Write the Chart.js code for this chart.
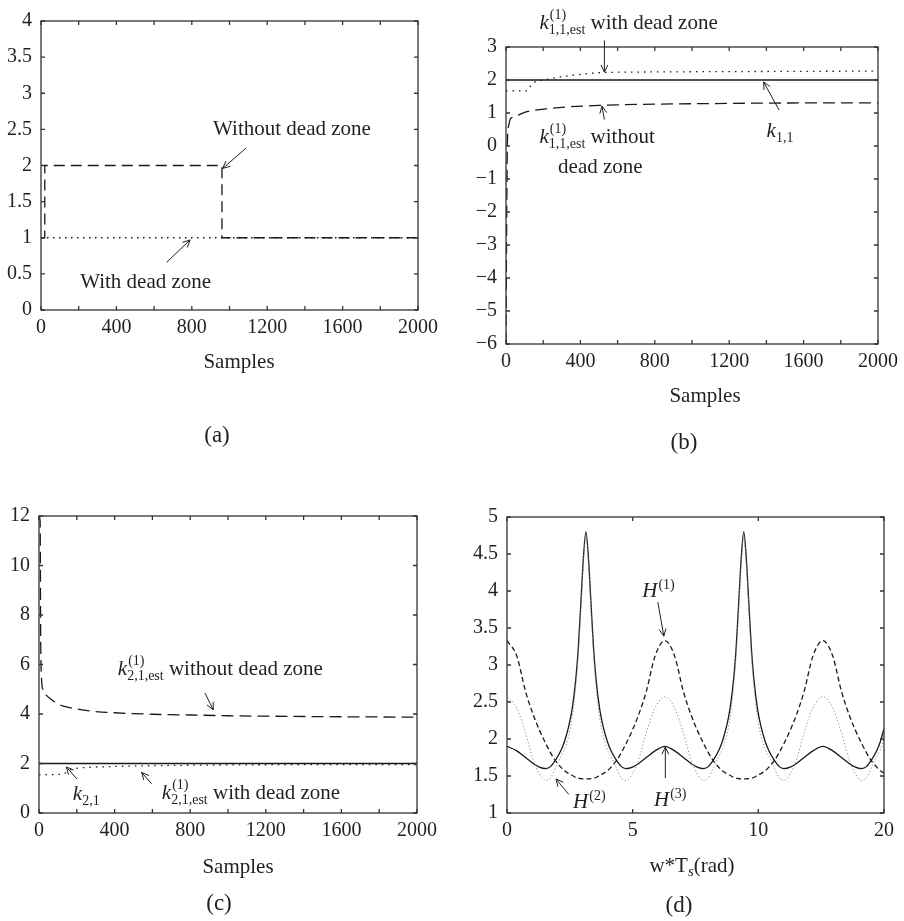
<!DOCTYPE html>
<html>
<head>
<meta charset="utf-8">
<script src="https://cdn.jsdelivr.net/npm/chart.js@4.4.1/dist/chart.umd.min.js"></script>
<style>
  body { margin: 0; background: #fff; width: 904px; height: 921px; position: relative; overflow: hidden;
         font-family: "Liberation Serif", "DejaVu Serif", serif; color: #231f20; }
  .panel { position: absolute; }
  .cap { position: absolute; transform: translate(-50%, -50%); font-size: 21px; white-space: nowrap; }
  .tag { font-size: 23px; }
</style>
</head>
<body>
<div class="panel" style="left:0;top:0;width:452px;height:460px"><canvas id="ca"></canvas></div>
<div class="panel" style="left:452px;top:0;width:452px;height:460px"><canvas id="cb"></canvas></div>
<div class="panel" style="left:0;top:460px;width:452px;height:461px"><canvas id="cc"></canvas></div>
<div class="panel" style="left:452px;top:460px;width:452px;height:461px"><canvas id="cd"></canvas></div>

<div class="cap" style="left:239px;top:361px">Samples</div>
<div class="cap tag" style="left:217px;top:435px">(a)</div>
<div class="cap" style="left:705px;top:395px">Samples</div>
<div class="cap tag" style="left:684px;top:442px">(b)</div>
<div class="cap" style="left:238px;top:866px">Samples</div>
<div class="cap tag" style="left:219px;top:903px">(c)</div>
<div class="cap" style="left:692px;top:865px">w*T<i style="font-size:15px;position:relative;top:4px">s</i>(rad)</div>
<div class="cap tag" style="left:679px;top:905px">(d)</div>

<script>
// (a) dead-zone switching gain
const aDeadX = [0, 2000];
const aDeadY = [1, 1];
const aFreeX = [0, 20, 20, 960, 960, 2000];
const aFreeY = [1, 1, 2, 2, 1, 1];

// (b) k_{1,1} estimates
const bRefX = [0, 2000];
const bRefY = [2, 2];
const bDeadX = [0, 115, 130, 150, 180, 230, 300, 400, 500, 700, 1000, 1500, 2000];
const bDeadY = [1.67, 1.67, 1.80, 1.92, 1.98, 2.03, 2.10, 2.17, 2.22, 2.24, 2.25, 2.26, 2.27];
const bFreeX = [0, 4, 8, 14, 22, 35, 60, 100, 150, 220, 320, 500, 700, 1000, 1400, 2000];
const bFreeY = [-6, -2, 0.2, 0.6, 0.8, 0.87, 0.92, 1.02, 1.08, 1.13, 1.18, 1.23, 1.26, 1.28, 1.30, 1.31];

// (c) k_{2,1} estimates
const cRefX = [0, 2000];
const cRefY = [2, 2];
const cDeadX = [0, 130, 150, 180, 250, 350, 500, 800, 1200, 2000];
const cDeadY = [1.55, 1.57, 1.70, 1.78, 1.84, 1.87, 1.90, 1.93, 1.95, 1.96];
const cFreeX = [0, 6, 9, 13, 20, 40, 60, 100, 150, 200, 300, 400, 600, 800, 1000, 1400, 2000];
const cFreeY = [12, 11.8, 7, 5.5, 5.0, 4.75, 4.62, 4.4, 4.28, 4.2, 4.1, 4.05, 3.99, 3.96, 3.93, 3.9, 3.87];

// (d) frequency responses
const dW = [
  0, 0.39, 0.74, 1.04, 1.29, 1.54, 1.74, 1.94, 2.14, 2.29, 2.44, 2.59, 2.74, 2.84, 2.94, 3.04, 3.14,
  3.24, 3.34, 3.44, 3.54, 3.69, 3.84, 3.99, 4.14, 4.34, 4.54, 4.74, 4.99, 5.24, 5.54, 5.89, 6.28,
  6.67, 7.02, 7.32, 7.57, 7.82, 8.02, 8.22, 8.42, 8.57, 8.72, 8.87, 9.02, 9.12, 9.22, 9.32, 9.42,
  9.52, 9.62, 9.72, 9.82, 9.97, 10.12, 10.27, 10.42, 10.62, 10.82, 11.02, 11.27, 11.52, 11.82, 12.17, 12.57,
  12.96, 13.31, 13.61, 13.86, 14.11, 14.31, 14.51, 14.71, 14.86, 15.0
];
const dH1 = [
  3.33, 3.12, 2.64, 2.33, 2.12, 1.94, 1.81, 1.70, 1.62, 1.57, 1.535, 1.51, 1.48, 1.47, 1.465, 1.46, 1.46,
  1.46, 1.465, 1.47, 1.48, 1.51, 1.535, 1.57, 1.62, 1.70, 1.81, 1.94, 2.12, 2.33, 2.64, 3.12, 3.33,
  3.12, 2.64, 2.33, 2.12, 1.94, 1.81, 1.70, 1.62, 1.57, 1.535, 1.51, 1.48, 1.47, 1.465, 1.46, 1.46,
  1.46, 1.465, 1.47, 1.48, 1.51, 1.535, 1.57, 1.62, 1.70, 1.81, 1.94, 2.12, 2.33, 2.64, 3.12, 3.33,
  3.12, 2.64, 2.33, 2.12, 1.94, 1.81, 1.70, 1.62, 1.57, 1.54
];
const dH2 = [
  2.57, 2.42, 2.08, 1.72, 1.53, 1.44, 1.48, 1.62, 1.76, 1.86, 2.02, 2.28, 2.72, 3.15, 3.76, 4.38, 4.75,
  4.38, 3.76, 3.15, 2.72, 2.28, 2.02, 1.86, 1.76, 1.62, 1.48, 1.44, 1.53, 1.72, 2.08, 2.42, 2.57,
  2.42, 2.08, 1.72, 1.53, 1.44, 1.48, 1.62, 1.76, 1.86, 2.02, 2.28, 2.72, 3.15, 3.76, 4.38, 4.75,
  4.38, 3.76, 3.15, 2.72, 2.28, 2.02, 1.86, 1.76, 1.62, 1.48, 1.44, 1.53, 1.72, 2.08, 2.42, 2.57,
  2.42, 2.08, 1.72, 1.53, 1.44, 1.48, 1.62, 1.76, 1.86, 2.01
];
const dH3 = [
  1.90, 1.84, 1.75, 1.67, 1.62, 1.60, 1.63, 1.72, 1.84, 1.97, 2.15, 2.40, 2.82, 3.25, 3.85, 4.45, 4.80,
  4.45, 3.85, 3.25, 2.82, 2.40, 2.15, 1.97, 1.84, 1.72, 1.63, 1.60, 1.62, 1.67, 1.75, 1.84, 1.90,
  1.84, 1.75, 1.67, 1.62, 1.60, 1.63, 1.72, 1.84, 1.97, 2.15, 2.40, 2.82, 3.25, 3.85, 4.45, 4.80,
  4.45, 3.85, 3.25, 2.82, 2.40, 2.15, 1.97, 1.84, 1.72, 1.63, 1.60, 1.62, 1.67, 1.75, 1.84, 1.90,
  1.84, 1.75, 1.67, 1.62, 1.60, 1.63, 1.72, 1.84, 1.97, 2.14
];
const dTickLabels = ["0", "5", "10", "20"];

const FONT = '"Liberation Serif", "DejaVu Serif", serif';
const INK = '#231f20';
const LINE = '#1a1a1a';
const Y_W = 40, X_H = 30, TICK = 4;

Chart.defaults.font.family = FONT;
Chart.defaults.color = INK;

const pts = (xs, ys) => xs.map((x, i) => ({ x: x, y: ys[i] }));
const minus = v => (v < 0 ? '\u2212' + Math.abs(v) : String(v));

function line(xs, ys, style) {
  return Object.assign({
    data: pts(xs, ys), borderColor: LINE, borderWidth: 1.3, pointRadius: 0,
    fill: false, cubicInterpolationMode: 'monotone'
  }, style);
}

// box with inward ticks on all four sides
const framePlugin = {
  id: 'frame',
  afterDatasetsDraw(chart) {
    const { ctx, chartArea: a, scales: { x, y } } = chart;
    ctx.save();
    ctx.strokeStyle = '#333';
    ctx.lineWidth = 1.3;
    ctx.strokeRect(a.left, a.top, a.right - a.left, a.bottom - a.top);
    ctx.beginPath();
    x.ticks.forEach(t => {
      const p = x.getPixelForValue(t.value);
      ctx.moveTo(p, a.bottom); ctx.lineTo(p, a.bottom - TICK);
      ctx.moveTo(p, a.top); ctx.lineTo(p, a.top + TICK);
    });
    y.ticks.forEach(t => {
      const p = y.getPixelForValue(t.value);
      ctx.moveTo(a.left, p); ctx.lineTo(a.left + TICK, p);
      ctx.moveTo(a.right, p); ctx.lineTo(a.right - TICK, p);
    });
    ctx.stroke();
    ctx.restore();
  }
};

// labels and arrows placed in data coordinates
const notesPlugin = {
  id: 'notes',
  afterDatasetsDraw(chart, args, opts) {
    const { ctx, scales: { x, y } } = chart;
    ctx.save();
    ctx.strokeStyle = INK;
    ctx.fillStyle = INK;
    ctx.lineWidth = 1;
    (opts.arrows || []).forEach(a => {
      const x1 = x.getPixelForValue(a[0]), y1 = y.getPixelForValue(a[1]);
      const x2 = x.getPixelForValue(a[2]), y2 = y.getPixelForValue(a[3]);
      const ang = Math.atan2(y2 - y1, x2 - x1), h = 8, s = 0.45;
      ctx.beginPath();
      ctx.moveTo(x1, y1); ctx.lineTo(x2, y2);
      ctx.moveTo(x2 - h * Math.cos(ang - s), y2 - h * Math.sin(ang - s));
      ctx.lineTo(x2, y2);
      ctx.lineTo(x2 - h * Math.cos(ang + s), y2 - h * Math.sin(ang + s));
      ctx.stroke();
    });
    ctx.textAlign = 'left';
    ctx.textBaseline = 'alphabetic';
    (opts.labels || []).forEach(l => {
      let px = x.getPixelForValue(l.at[0]);
      const py = y.getPixelForValue(l.at[1]);
      l.runs.forEach(r => {
        ctx.font = (r.it ? 'italic ' : '') + (r.size || 21) + 'px ' + FONT;
        const dx = r.dx || 0;
        ctx.fillText(r.t, px + dx, py + (r.dy || 0));
        if (!r.hold) px += dx + ctx.measureText(r.t).width;
      });
    });
    ctx.restore();
  }
};

const k = { t: 'k', it: true };
const H = { t: 'H', it: true };
const sup = (t, dy) => ({ t: t, size: 14, dy: dy, dx: 1, hold: true });
const sub = t => ({ t: t, size: 14, dy: 5 });
const word = t => ({ t: t });

function makePanel(id, cfg) {
  const el = document.getElementById(id);
  const wrap = el.parentElement;
  const cx = wrap.offsetLeft, cy = wrap.offsetTop, cw = wrap.offsetWidth, ch = wrap.offsetHeight;
  const [L, T, R, B] = cfg.box;
  return new Chart(el, {
    type: 'line',
    data: { datasets: cfg.datasets },
    options: {
      responsive: true,
      maintainAspectRatio: false,
      animation: false,
      devicePixelRatio: 1,
      events: [],
      layout: { padding: { left: L - cx - Y_W, top: T - cy, right: cx + cw - R, bottom: cy + ch - B - X_H } },
      plugins: { legend: { display: false }, tooltip: { enabled: false }, notes: cfg.notes },
      scales: {
        x: {
          type: 'linear', min: cfg.x[0], max: cfg.x[1],
          grid: { display: false, drawTicks: false }, border: { display: false },
          ticks: { stepSize: cfg.x[2], autoSkip: false, maxRotation: 0, padding: 6,
                   font: { size: 20 }, color: INK, callback: cfg.xLabel },
          afterFit: s => { s.height = X_H; }
        },
        y: {
          type: 'linear', min: cfg.y[0], max: cfg.y[1],
          grid: { display: false, drawTicks: false }, border: { display: false },
          ticks: { stepSize: cfg.y[2], autoSkip: false, padding: 9,
                   font: { size: 20 }, color: INK, callback: v => minus(v) },
          afterFit: s => { s.width = Y_W; }
        }
      }
    },
    plugins: [framePlugin, notesPlugin]
  });
}

const sampleLabel = v => (v % 400 === 0 ? String(v) : '');

makePanel('ca', {
  box: [41, 12, 418, 310],
  x: [0, 2000, 200], y: [0, 4, 0.5], xLabel: sampleLabel,
  datasets: [
    line(aDeadX, aDeadY, { borderDash: [1.5, 4.5], cubicInterpolationMode: 'default', tension: 0 }),
    line(aFreeX, aFreeY, { borderDash: [11, 6], cubicInterpolationMode: 'default', tension: 0 })
  ],
  notes: {
    labels: [
      { at: [913, 2.42], runs: [word('Without dead zone')] },
      { at: [208, 0.30], runs: [word('With dead zone')] }
    ],
    arrows: [[1087, 2.24, 964, 1.96], [667, 0.66, 791, 0.97]]
  }
});

makePanel('cb', {
  box: [506, 47, 884, 344],
  x: [0, 2000, 200], y: [-6, 3, 1], xLabel: sampleLabel,
  datasets: [
    line(bRefX, bRefY, {}),
    line(bDeadX, bDeadY, { borderDash: [1.5, 5] }),
    line(bFreeX, bFreeY, { borderDash: [12, 6] })
  ],
  notes: {
    labels: [
      { at: [180, 3.535], runs: [k, sup('(1)', -10), sub('1,1,est'), word(' with dead zone')] },
      { at: [180, 0.09], runs: [k, sup('(1)', -10), sub('1,1,est'), word(' without')] },
      { at: [280, -0.82], runs: [word('dead zone')] },
      { at: [1401, 0.27], runs: [k, sub('1,1')] }
    ],
    arrows: [[529, 3.20, 529, 2.24], [529, 0.80, 516, 1.21], [1468, 1.09, 1385, 1.94]]
  }
});

makePanel('cc', {
  box: [39, 516, 417, 813],
  x: [0, 2000, 200], y: [0, 12, 2], xLabel: sampleLabel,
  datasets: [
    line(cRefX, cRefY, {}),
    line(cDeadX, cDeadY, { borderDash: [1.5, 5] }),
    line(cFreeX, cFreeY, { borderDash: [12, 6] })
  ],
  notes: {
    labels: [
      { at: [417, 5.58], runs: [k, sup('(1)', -10), sub('2,1,est'), word(' without dead zone')] },
      { at: [179, 0.54], runs: [k, sub('2,1')] },
      { at: [650, 0.58], runs: [k, sup('(1)', -10), sub('2,1,est'), word(' with dead zone')] }
    ],
    arrows: [[878, 4.85, 922, 4.17], [201, 1.37, 145, 1.86], [596, 1.18, 543, 1.64]]
  }
});

makePanel('cd', {
  box: [507, 517, 884, 813],
  x: [0, 15, 5], y: [1, 5, 0.5], xLabel: (v, i) => dTickLabels[i],
  datasets: [
    line(dW, dH2, { borderColor: '#8a8a8a', borderWidth: 1, borderDash: [1.2, 2.2] }),
    line(dW, dH1, { borderDash: [5, 3] }),
    line(dW, dH3, {})
  ],
  notes: {
    labels: [
      { at: [5.38, 3.92], runs: [H, sup('(1)', -8)] },
      { at: [2.63, 1.07], runs: [H, sup('(2)', -8)] },
      { at: [5.85, 1.10], runs: [H, sup('(3)', -8)] }
    ],
    arrows: [[6.0, 3.85, 6.24, 3.39], [2.46, 1.25, 1.95, 1.46], [6.30, 1.47, 6.30, 1.89]]
  }
});
</script>
</body>
</html>
